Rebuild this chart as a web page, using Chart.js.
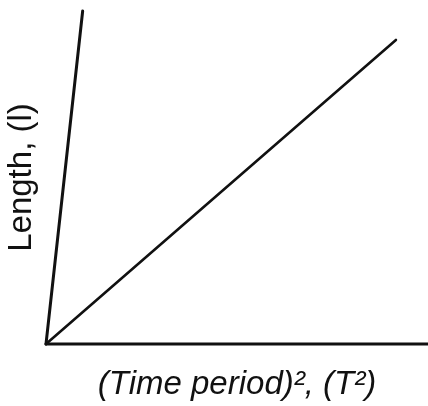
<!DOCTYPE html>
<html>
<head>
<meta charset="utf-8">
<script src="https://cdn.jsdelivr.net/npm/chart.js@4/dist/chart.umd.min.js"></script>
<style>
html,body{margin:0;padding:0;background:#fff;}
#wrap{width:428px;height:406px;}
</style>
</head>
<body>
<div id="wrap"><canvas id="c" width="428" height="406"></canvas></div>
<script>
// Line through origin: l vs T^2
const relationT2 = [0, 9.16];
const relationL = [0, 9.13];
// Drawn axes (the vertical one is tilted in the original sketch)
const yAxisT2 = [0, 0.96];
const yAxisL = [0, 10];
const xAxisT2 = [0, 10];
const xAxisL = [0, 0];
const xTitle = '(Time period)², (T²)';
const yTitle = 'Length, (l)';

const toPts = (xs, ys) => xs.map((x, i) => ({x: x, y: ys[i]}));
const lineStyle = {showLine: true, pointRadius: 0, borderColor: '#111', borderWidth: 3, clip: false, borderCapStyle: 'round'};

new Chart(document.getElementById('c'), {
  type: 'scatter',
  data: {
    datasets: [
      Object.assign({label: 'x axis', data: toPts(xAxisT2, xAxisL)}, lineStyle),
      Object.assign({label: 'y axis', data: toPts(yAxisT2, yAxisL)}, lineStyle),
      Object.assign({label: 'l vs T²', data: toPts(relationT2, relationL)}, lineStyle, {borderWidth: 2.6})
    ]
  },
  options: {
    responsive: false,
    animation: false,
    layout: {padding: {left: 0, right: 0, top: 11, bottom: 5}},
    plugins: {legend: {display: false}, tooltip: {enabled: false}},
    scales: {
      x: {
        type: 'linear', min: 0, max: 10,
        grid: {display: false}, border: {display: false},
        ticks: {display: false},
        title: {display: true, text: xTitle, color: '#111',
          font: {family: 'Liberation Sans, Arial, sans-serif', size: 33, style: 'italic', lineHeight: 1},
          padding: {top: 16, bottom: 0}}
      },
      y: {
        type: 'linear', min: 0, max: 10,
        grid: {display: false}, border: {display: false},
        ticks: {display: false},
        title: {display: true, text: yTitle, color: '#111',
          font: {family: 'Liberation Sans, Arial, sans-serif', size: 33, lineHeight: 1},
          padding: {top: 5, bottom: 0}}
      }
    }
  }
});
</script>
</body>
</html>
